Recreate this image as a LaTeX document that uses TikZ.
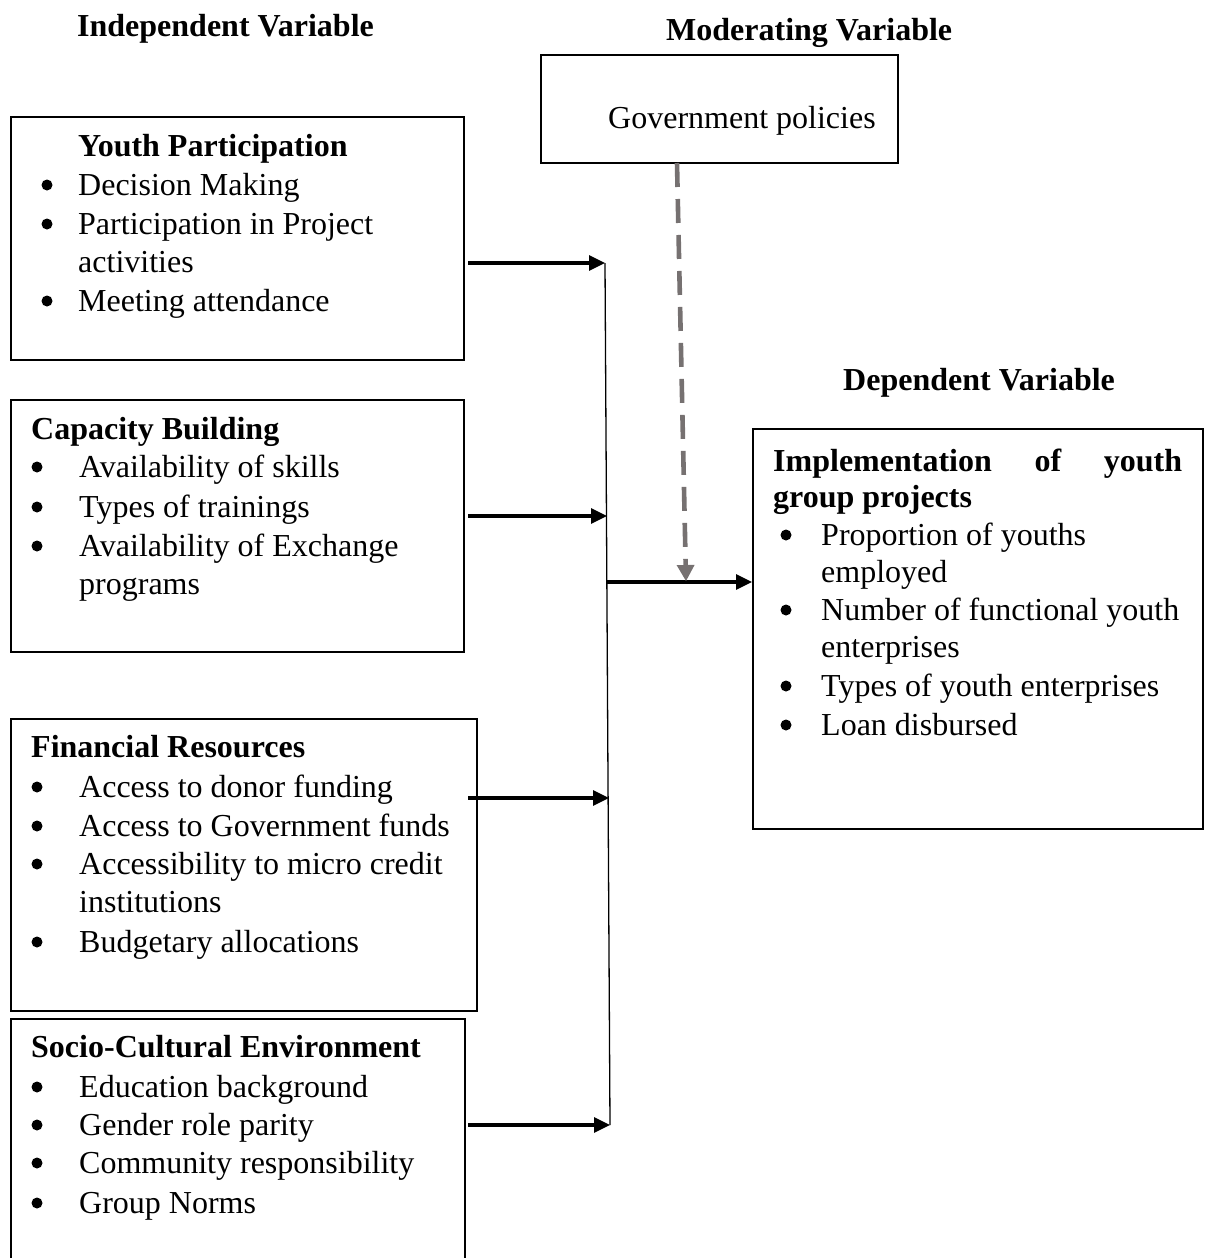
\documentclass[tikz,border=0pt]{standalone}
\usepackage{fontspec}
\setmainfont{Liberation Serif}
\usetikzlibrary{arrows.meta,calc}
\definecolor{dashgray}{HTML}{767171}
\begin{document}
\begin{tikzpicture}[x=1pt,y=-1pt,
  box/.style={draw, line width=1.8pt, anchor=north west, inner sep=0pt},
  txt/.style={anchor=base west, inner sep=0pt, font=\fontsize{32}{38.5}\selectfont},
  btxt/.style={txt, font=\fontsize{32}{38.5}\selectfont\bfseries},
  bul/.style={circle, fill=black, inner sep=0pt, minimum size=11pt},
  conn/.style={line width=3.1pt, -{Triangle[length=16pt,width=15pt]}},
  bus/.style={line width=1.3pt},
  modarrow/.style={draw=dashgray, line width=4.6pt, dash pattern=on 24pt off 12pt,
     -{Triangle[length=16pt,width=18pt,fill=dashgray,line width=0pt]}}
]
\useasboundingbox (0,0) rectangle (1210,1258);
\clip (0,0) rectangle (1210,1258);
% headers
\node[btxt] (hind) at (77,36) {Independent Variable};
\node[btxt] (hmod) at (666,40) {Moderating Variable};
\node[btxt] (hdep) at (843,390) {Dependent Variable};
% boxes
\node[box, minimum width=357pt, minimum height=108pt] (gov) at (540,54) {};
\node[txt] (govt) at (608,128) {Government policies};
\node[box, minimum width=453pt, minimum height=243pt] (yp) at (10,116) {};
\node[box, minimum width=453pt, minimum height=252pt] (cb) at (10,399) {};
\node[box, minimum width=466pt, minimum height=292pt] (fr) at (10,718) {};
\node[box, minimum width=454pt, minimum height=260pt] (sc) at (10,1018) {};
\node[box, minimum width=450pt, minimum height=400pt] (impl) at (752,428) {};
% Youth participation
\node[btxt] at (78,156) {Youth Participation};
\node[bul] at (47,185) {};
\node[txt] at (78,195) {Decision Making};
\node[bul] at (47,224) {};
\node[txt] at (78,234) {Participation in Project};
\node[txt] at (78,272) {activities};
\node[bul] at (47,301) {};
\node[txt] at (78,311) {Meeting attendance};
% Capacity building
\node[btxt] at (31,439) {Capacity Building};
\node[bul] at (37,467) {};
\node[txt] at (79,477) {Availability of skills};
\node[bul] at (37,507) {};
\node[txt] at (79,517) {Types of trainings};
\node[bul] at (37,546) {};
\node[txt] at (79,556) {Availability of Exchange};
\node[txt] at (79,594) {programs};
% Financial resources
\node[btxt] at (31,757) {Financial Resources};
\node[bul] at (37,787) {};
\node[txt] at (79,797) {Access to donor funding};
\node[bul] at (37,826) {};
\node[txt] at (79,836) {Access to Government funds};
\node[bul] at (37,864) {};
\node[txt] at (79,874) {Accessibility to micro credit};
\node[txt] at (79,912) {institutions};
\node[bul] at (37,942) {};
\node[txt] at (79,952) {Budgetary allocations};
% Socio-cultural
\node[btxt] at (31,1057) {Socio-Cultural Environment};
\node[bul] at (37,1087) {};
\node[txt] at (79,1097) {Education background};
\node[bul] at (37,1125) {};
\node[txt] at (79,1135) {Gender role parity};
\node[bul] at (37,1163) {};
\node[txt] at (79,1173) {Community responsibility};
\node[bul] at (37,1203) {};
\node[txt] at (79,1213) {Group Norms};
% Implementation
\node[btxt] at (773,470) {\parbox{409pt}{Implementation\hfill of\hfill youth}};
\node[btxt] at (773,507) {group projects};
\node[bul] at (786,535) {};
\node[txt] at (821,545) {Proportion of youths};
\node[txt] at (821,582) {employed};
\node[bul] at (786,610) {};
\node[txt] at (821,620) {Number of functional youth};
\node[txt] at (821,657) {enterprises};
\node[bul] at (786,686) {};
\node[txt] at (821,696) {Types of youth enterprises};
\node[bul] at (786,725) {};
\node[txt] at (821,735) {Loan disbursed};
% connectors
\coordinate (s1) at (468,263);
\coordinate (s2) at (468,516);
\coordinate (s3) at (468,798);
\coordinate (s4) at (468,1125);
\coordinate (j1) at (605,263);
\coordinate (j2) at (607,516);
\coordinate (j3) at (609,798);
\coordinate (j4) at (610,1125);
\coordinate (jm) at (607,582);
\coordinate (mtop) at (677,163);
\coordinate (mend) at (686,581);
\draw[bus] (j1) -- (j4);
\draw[conn] (s1) -- (j1);
\draw[conn] (s2) -- (j2);
\draw[conn] (s3) -- (j3);
\draw[conn] (s4) -- (j4);
\draw[conn] (jm) -- (jm -| impl.west);
\draw[modarrow] (mtop) -- (mend);
\end{tikzpicture}
\end{document}
